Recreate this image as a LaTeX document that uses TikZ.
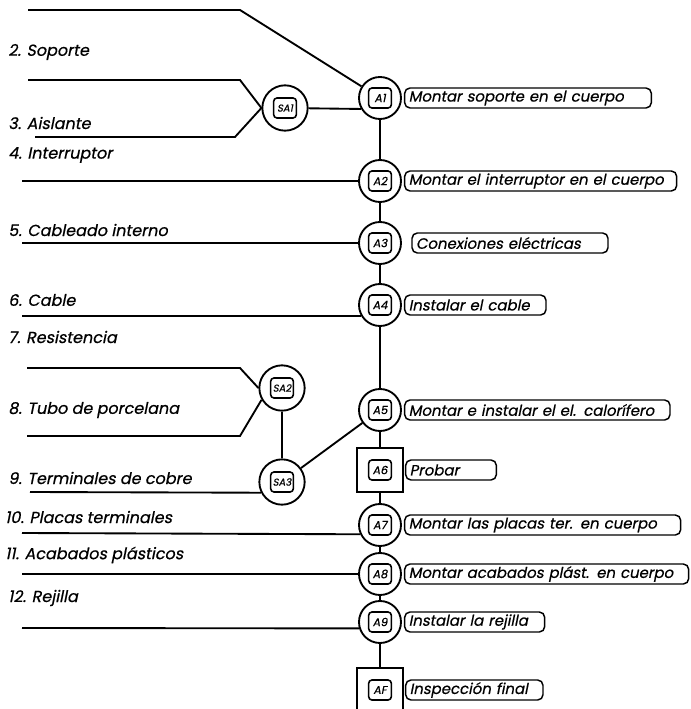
\documentclass[tikz,border=0pt]{standalone}
\usepackage{fontspec}
\newfontfamily\gothic{Poppins}[FakeSlant=0.2, FakeBold=0.6]
\usetikzlibrary{positioning}

\begin{document}
\begin{tikzpicture}[x=0.75pt, y=-0.75pt,
    proc/.style={circle, draw, line width=1.4pt, minimum size=31.5pt, inner sep=0pt, fill=white,
        font=\gothic\fontsize{8.5}{9}\selectfont,
        path picture={\draw[rounded corners=2.5pt, line width=1.2pt]
            ([shift={(-8.5pt,-7.5pt)}]path picture bounding box.center) rectangle
            ([shift={(8.5pt,7.5pt)}]path picture bounding box.center);}},
    subproc/.style={proc, minimum size=34pt, font=\gothic\fontsize{7.5}{8}\selectfont},
    check/.style={proc, rectangle, minimum width=34pt, minimum height=33pt},
    desc/.style={rectangle, draw, rounded corners=4pt, line width=1.1pt, minimum height=15pt,
        inner xsep=3pt, inner ysep=0.5pt, text width=#1, align=left,
        font=\gothic\fontsize{11.2}{12}\selectfont},
    part/.style={anchor=west, inner sep=0pt, font=\gothic\fontsize{12}{13}\selectfont},
    wire/.style={draw, line width=1.4pt}
]
\useasboundingbox (0,0) rectangle (691,709);

% Operations (main line)
\node[proc] (a1) at (380,98) {A1};
\node[proc] (a2) at (380,181) {A2};
\node[proc] (a3) at (380,243) {A3};
\node[proc] (a4) at (380,305) {A4};
\node[proc] (a5) at (380,410) {A5};
\node[check] (a6) at (380,470) {A6};
\node[proc] (a7) at (380,525) {A7};
\node[proc] (a8) at (380,574) {A8};
\node[proc] (a9) at (380,622) {A9};
\node[check] (af) at (380,690) {AF};

% Sub-assemblies
\node[subproc] (sa1) at (285,108) {SA1};
\node[subproc] (sa2) at (282,388) {SA2};
\node[subproc] (sa3) at (282,482) {SA3};

% Descriptions
\node[desc=179pt, right=1.5pt of a1] (d1) {Montar soporte en el cuerpo};
\node[desc=198pt, right=1.5pt of a2] (d2) {Montar el interruptor en el cuerpo};
\node[desc=141pt, right=7pt of a3] (d3) {Conexiones eléctricas};
\node[desc=100pt, right=1.5pt of a4] (d4) {Instalar el cable};
\node[desc=193pt, right=1.5pt of a5] (d5) {Montar e instalar el el. calorífero};
\node[desc=62pt, right=1pt of a6] (d6) {Probar};
\node[desc=201pt, right=1.5pt of a7] (d7) {Montar las placas ter. en cuerpo};
\node[desc=207pt, right=1.5pt of a8] (d8) {Montar acabados plást. en cuerpo};
\node[desc=99pt, right=1.5pt of a9] (d9) {Instalar la rejilla};
\node[desc=97pt, right=1pt of af] (df) {Inspección final};

% Parts
\node[part] (p2) at (8,52) {2. Soporte};
\node[part] (p3) at (8,123) {3. Aislante};
\node[part] (p4) at (8,155) {4. Interruptor};
\node[part] (p5) at (8,230) {5. Cableado interno};
\node[part] (p6) at (8,300) {6. Cable};
\node[part] (p7) at (8,337) {7. Resistencia};
\node[part] (p8) at (8,410) {8. Tubo de porcelana};
\node[part] (p9) at (8,478) {9. Terminales de cobre};
\node[part] (p10) at (5,517) {10. Placas terminales};
\node[part] (p11) at (5,555) {11. Acabados plásticos};
\node[part] (p12) at (8,598) {12. Rejilla};

% Feed lines
\coordinate (l1) at (28,10);  \coordinate (k1) at (240,10);
\coordinate (l2) at (28,80);  \coordinate (k2) at (240,80);
\coordinate (l3) at (35,137); \coordinate (k3) at (235,137);
\coordinate (l4) at (22,181);
\coordinate (l5) at (22,243);
\coordinate (l6) at (22,316);
\coordinate (l7) at (27,368); \coordinate (k7) at (240,368);
\coordinate (l8) at (27,436); \coordinate (k8) at (240,436);
\coordinate (l9) at (30,492);
\coordinate (l10) at (22,533);
\coordinate (l11) at (22,574);
\coordinate (l12) at (22,628);

\draw[wire] (l1) -- (k1) -- (a1);
\draw[wire] (l2) -- (k2) -- (sa1.west);
\draw[wire] (l3) -- (k3) -- (sa1.west);
\draw[wire] (sa1) -- (a1.210);
\draw[wire] (l4) -- (a2);
\draw[wire] (l5) -- (a3);
\draw[wire] (l6) -- (a4.210);
\draw[wire] (l7) -- (k7) -- (sa2.west);
\draw[wire] (l8) -- (k8) -- (sa2.210);
\draw[wire] (sa2) -- (sa3);
\draw[wire] (l9) -- (sa3.207);
\draw[wire] (sa3) -- (a5);
\draw[wire] (l10) -- (a7.205);
\draw[wire] (l11) -- (a8);
\draw[wire] (l12) -- (a9.197);

% Main line
\foreach \u/\v in {a1/a2, a2/a3, a3/a4, a4/a5, a5/a6, a6/a7, a7/a8, a8/a9, a9/af}
    \draw[wire] (\u) -- (\v);

\end{tikzpicture}
\end{document}
